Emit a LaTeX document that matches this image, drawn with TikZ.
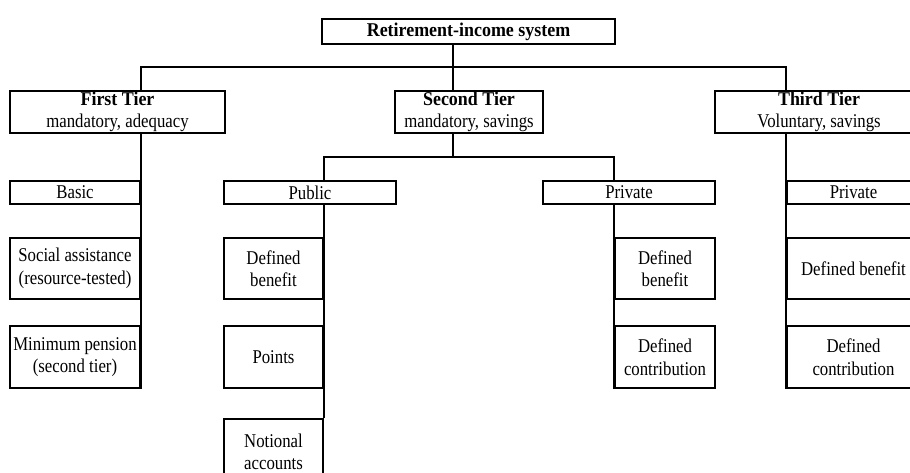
\documentclass[tikz,border=0pt]{standalone}
\usepackage{fontspec}
\setmainfont{Liberation Serif}[FakeStretch=0.86,BoldFeatures={FakeStretch=0.92}]
\begin{document}
\begin{tikzpicture}[x=1pt,y=-1pt,
  box/.style={draw=black,line width=1.8pt,inner sep=0pt,align=center,
    font=\fontsize{19.5}{22.5}\selectfont},
  link/.style={draw=black,line width=1.8pt}]
\useasboundingbox (0,0) rectangle (910,473);
\clip (0,0) rectangle (910,473);
% top level
\node[box,minimum width=293,minimum height=25] (root) at (468.5,31.5) {\textbf{Retirement-income system}};
\node[box,minimum width=215,minimum height=42] (first) at (117.5,112) {\textbf{First Tier}\\mandatory, adequacy};
\node[box,minimum width=148,minimum height=42] (second) at (469,112) {\textbf{Second Tier}\\mandatory, savings};
\node[box,minimum width=208,minimum height=42] (third) at (819,112) {\textbf{Third Tier}\\Voluntary, savings};
% first tier column
\node[box,minimum width=130,minimum height=23] (basic) at (75,192.5) {Basic};
\node[box,minimum width=130,minimum height=61] (social) at (75,268.5) {Social assistance\\(resource-tested)};
\node[box,minimum width=130,minimum height=62] (minpen) at (75,357) {Minimum pension\\(second tier)};
% second tier public
\node[box,minimum width=172,minimum height=23] (public) at (310,192.5) {Public};
\node[box,minimum width=99,minimum height=61] (pubdb) at (273.5,268.5) {Defined\\benefit};
\node[box,minimum width=99,minimum height=62] (points) at (273.5,357) {Points};
\node[box,minimum width=99,minimum height=66] (notional) at (273.5,452) {Notional\\accounts};
% second tier private
\node[box,minimum width=172,minimum height=23] (priv2) at (629,192.5) {Private};
\node[box,minimum width=100,minimum height=61] (privdb) at (665,268.5) {Defined\\benefit};
\node[box,minimum width=100,minimum height=62] (privdc) at (665,357) {Defined\\contribution};
% third tier
\node[box,minimum width=133,minimum height=23] (priv3) at (853.5,192.5) {Private};
\node[box,minimum width=133,minimum height=61] (thirddb) at (853.5,268.5) {Defined benefit};
\node[box,minimum width=133,minimum height=62] (thirddc) at (853.5,357) {Defined\\contribution};
% junctions
\coordinate (j0) at (453,67);
\coordinate (j1) at (453,157);
% connectors
\draw[link] (root.south -| j0) -- (second.north -| j0);
\draw[link] (first.north -| basic.east) |- (j0) -| (third.north -| priv3.west);
\draw[link] (first.south -| basic.east) -- (minpen.south east);
\draw[link] (second.south -| j1) -- (j1);
\draw[link] (public.north -| pubdb.east) |- (j1) -| (priv2.north -| privdb.west);
\draw[link] (public.south -| pubdb.east) -- (notional.north east);
\draw[link] (priv2.south -| privdb.west) -- (privdc.south west);
\draw[link] (third.south -| priv3.west) -- (thirddc.south west);
\end{tikzpicture}
\end{document}
